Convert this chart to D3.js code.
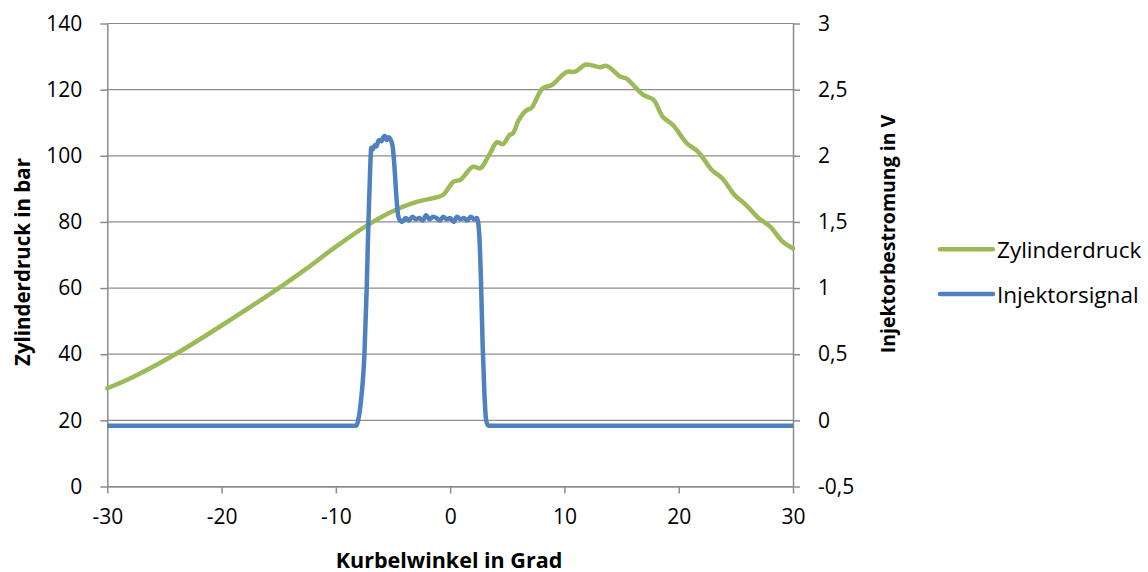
<!DOCTYPE html>
<html>
<head>
<meta charset="utf-8">
<script src="https://cdn.jsdelivr.net/npm/d3@7"></script>
<style>
  html, body { margin: 0; padding: 0; background: #fff; }
  svg text { font-family: "Open Sans", Lato, sans-serif; fill: #000; }
</style>
</head>
<body>
<svg id="chart" width="1148" height="572"></svg>
<script>
// ---- data ----
const pressureAngle = [-30,-27.7,-23.9,-19,-14.9,-12.6,-10.2,-7.3,-4.8,-3,-1.2,-0.6,0,0.3,0.9,1.3,2.0,2.6,2.8,3.5,4.1,4.6,5.2,5.5,6.0,6.7,7.1,8.1,8.9,10.2,10.9,11.9,13.1,13.7,14.9,15.4,16.9,17.8,18.6,19.5,20.7,21.7,22.9,23.8,24.9,25.9,27.0,28.0,29.1,30];
const pressure = [29.7,33.2,40.3,50.9,60.2,65.8,72.0,78.9,83.6,86,87.4,88.2,91.0,92.2,92.7,94.2,96.7,96.2,96.7,100.8,104.1,103.5,106.3,106.8,110.8,113.8,114.4,120.4,121.4,125.4,125.4,127.6,126.8,127.2,123.9,123.4,118.4,116.9,111.8,109.3,103.8,101.2,95.7,93.2,88.1,85.1,81.1,78.6,74.0,72.0];

const signalAngle = [-30,-8.2,-8.05,-7.8,-7.5,-7.3,-7.15,-7.0,-6.9,-6.75,-6.6,-6.45,-6.3,-6.15,-6.0,-5.85,-5.7,-5.55,-5.4,-5.2,-5.05,-4.9,-4.75,-4.6,-4.45,-4.2,-3.9,-3.6,-3.3,-3.0,-2.7,-2.4,-2.1,-1.8,-1.5,-1.2,-0.9,-0.6,-0.3,0,0.3,0.6,0.9,1.2,1.5,1.8,2.1,2.35,2.55,2.7,2.85,3.0,3.15,3.35,30];
const signal = [-0.04,-0.04,0.0,0.15,0.5,1.0,1.5,1.9,2.06,2.05,2.08,2.07,2.11,2.12,2.11,2.14,2.15,2.12,2.14,2.12,2.08,1.95,1.75,1.58,1.52,1.50,1.53,1.51,1.54,1.52,1.53,1.51,1.55,1.52,1.54,1.53,1.51,1.54,1.52,1.53,1.50,1.54,1.52,1.53,1.51,1.54,1.52,1.53,1.40,1.05,0.55,0.2,0.0,-0.04,-0.04];

const xTicks = [-30,-20,-10,0,10,20,30];
const xTickLabels = ["-30","-20","-10","0","10","20","30"];
const leftTicks = [0,20,40,60,80,100,120,140];
const rightTicks = [-0.5,0,0.5,1,1.5,2,2.5,3];
const rightTickLabels = ["-0,5","0","0,5","1","1,5","2","2,5","3"];

const seriesNames = ["Zylinderdruck","Injektorsignal"];
const seriesColors = ["#9bbb59","#4f81bd"];

// ---- layout ----
const svg = d3.select("#chart");
const L = 107.3, R = 793, T = 23.5, B = 486.5;
const gridColor = "#8c8c8c";

const x = d3.scaleLinear().domain([-30,30]).range([L,R]);
const yL = d3.scaleLinear().domain([0,140]).range([B,T]);
const yR = d3.scaleLinear().domain([-0.5,3]).range([B,T]);

// gridlines
svg.append("g").selectAll("line").data(leftTicks).join("line")
  .attr("x1", L).attr("x2", R)
  .attr("y1", d => yL(d)).attr("y2", d => yL(d))
  .attr("stroke", gridColor).attr("stroke-width", 1.2);

// axes
const gl = svg.append("g").attr("transform", `translate(${L},0)`)
  .call(d3.axisLeft(yL).tickValues(leftTicks).tickSize(7).tickPadding(18).tickFormat(d3.format("d")));
const gr = svg.append("g").attr("transform", `translate(${R},0)`)
  .call(d3.axisRight(yR).tickValues(rightTicks).tickSize(7).tickPadding(18).tickFormat((d,i) => rightTickLabels[i]));
const gb = svg.append("g").attr("transform", `translate(0,${B})`)
  .call(d3.axisBottom(x).tickValues(xTicks).tickSize(7).tickPadding(16).tickFormat((d,i) => xTickLabels[i]));

[gl, gr, gb].forEach(g => {
  g.select(".domain").attr("stroke", gridColor).attr("stroke-width", 1.5);
  g.selectAll(".tick line").attr("stroke", gridColor).attr("stroke-width", 1.5);
  g.selectAll(".tick text").attr("font-size", 21).attr("font-family", "'Open Sans', sans-serif").attr("fill", "#000");
});
gb.select(".domain").attr("d", `M${L},0.5H${R}`);
gl.select(".domain").attr("d", `M0.5,${T}V${B}`);
gr.select(".domain").attr("d", `M0.5,${T}V${B}`);

// lines
const lineP = d3.line().x((d,i) => x(pressureAngle[i])).y(d => yL(d)).curve(d3.curveCatmullRom.alpha(0.5));
const lineS = d3.line().x((d,i) => x(signalAngle[i])).y(d => yR(d)).curve(d3.curveMonotoneX);

svg.append("path").datum(pressure).attr("d", lineP)
  .attr("fill","none").attr("stroke", seriesColors[0]).attr("stroke-width", 4.5)
  .attr("stroke-linejoin","round").attr("stroke-linecap","round");
svg.append("path").datum(signal).attr("d", lineS)
  .attr("fill","none").attr("stroke", seriesColors[1]).attr("stroke-width", 4.5)
  .attr("stroke-linejoin","round").attr("stroke-linecap","butt");

// axis titles
svg.append("text").attr("transform", `translate(22,262) rotate(-90)`)
  .attr("text-anchor","middle").attr("dominant-baseline","central")
  .attr("font-size", 20.5).attr("font-weight","bold").text("Zylinderdruck in bar");
svg.append("text").attr("transform", `translate(887,234) rotate(-90)`)
  .attr("text-anchor","middle").attr("dominant-baseline","central")
  .attr("font-size", 19.5).attr("font-weight","bold").text("Injektorbestromung in V");
svg.append("text").attr("x", 449).attr("y", 559)
  .attr("text-anchor","middle").attr("dominant-baseline","central")
  .attr("font-size", 21.5).attr("font-weight","bold").text("Kurbelwinkel in Grad");

// legend
const legY = [249.3, 294];
const leg = svg.append("g");
seriesNames.forEach((name, i) => {
  leg.append("line").attr("x1", 940).attr("x2", 993).attr("y1", legY[i]).attr("y2", legY[i])
    .attr("stroke", seriesColors[i]).attr("stroke-width", 4.5).attr("stroke-linecap","round");
  leg.append("text").attr("x", 997).attr("y", legY[i]).attr("dominant-baseline","central")
    .attr("font-size", 22.5).text(name);
});
</script>
</body>
</html>
